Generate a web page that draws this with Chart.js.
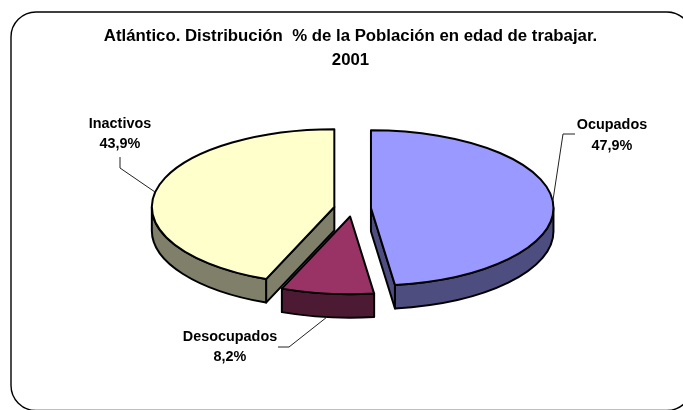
<!DOCTYPE html>
<html>
<head>
<meta charset="utf-8">
<script src="https://cdn.jsdelivr.net/npm/chart.js@4"></script>
<style>html,body{margin:0;padding:0;background:#fff}canvas{display:block}</style>
</head>
<body>
<canvas id="c" width="683" height="410"></canvas>
<script>
const titleLines = ['Atlántico. Distribución  % de la Población en edad de trabajar.', '2001'];
const categories = ['Ocupados', 'Desocupados', 'Inactivos'];
const shares = [47.9, 8.2, 43.9];

const topColors = ['#9999FF', '#993366', '#FFFFCC'];
const wallColors = ['#4D4D80', '#4D1A33', '#80806A'];
const explode = [18.5, 19, 18.5];
const pieShiftX = 2;
const drawOrder = [2, 0, 1];
const squash = 0.426;
const depth = 23.5;
const pieRadius = 182.5;
const FONT = 'Liberation Sans, Arial, sans-serif';
const calloutStyle = [
  { text: [612, 125, 146], line: [[553, 200], [563, 134], [575, 134]] },
  { text: [230, 337, 357], line: [[327, 317], [289, 347], [278, 347]] },
  { text: [120, 124, 144], line: [[155, 192], [120, 168], [120, 157]] }
];

function wedgeGeometry(arc, i) {
  const p = arc.getProps(['x', 'y', 'startAngle', 'endAngle', 'outerRadius'], true);
  const mid = (p.startAngle + p.endAngle) / 2;
  return {
    cx: p.x + pieShiftX + Math.cos(mid) * explode[i],
    cy: p.y + Math.sin(mid) * explode[i] * squash,
    px: p.x, py: p.y,
    r: p.outerRadius, ry: p.outerRadius * squash,
    a0: p.startAngle, a1: p.endAngle
  };
}

function drawRadialWall(ctx, g, angle, color) {
  const ex = g.cx + Math.cos(angle) * g.r, ey = g.cy + Math.sin(angle) * g.ry;
  ctx.beginPath();
  ctx.moveTo(g.cx, g.cy);
  ctx.lineTo(ex, ey);
  ctx.lineTo(ex, ey + depth);
  ctx.lineTo(g.cx, g.cy + depth);
  ctx.closePath();
  ctx.fillStyle = color;
  ctx.fill();
  ctx.stroke();
}

function drawOuterWall(ctx, g, color) {
  const from = Math.max(g.a0, 0), to = Math.min(g.a1, Math.PI);
  if (to <= from) return;
  ctx.beginPath();
  ctx.ellipse(g.cx, g.cy, g.r, g.ry, 0, from, to);
  ctx.ellipse(g.cx, g.cy + depth, g.r, g.ry, 0, to, from, true);
  ctx.closePath();
  ctx.fillStyle = color;
  ctx.fill();
  ctx.stroke();
}

const pie3d = {
  id: 'pie3d',
  beforeDraw(chart) {
    const ctx = chart.ctx;
    ctx.save();
    ctx.fillStyle = '#fff';
    ctx.fillRect(0, 0, chart.width, chart.height);
    ctx.beginPath();
    ctx.roundRect(11, 12, 681, 398.5, 25);
    ctx.lineWidth = 1.4;
    ctx.strokeStyle = '#000';
    ctx.stroke();
    ctx.restore();
  },
  beforeDatasetDraw(chart, args) {
    const ctx = chart.ctx;
    const arcs = args.meta.data;
    drawOrder.forEach(i => {
      const arc = arcs[i];
      const g = wedgeGeometry(arc, i);
      ctx.save();
      ctx.lineWidth = 2;
      ctx.lineJoin = 'round';
      ctx.strokeStyle = '#000';
      if (Math.sin(g.a0 - Math.PI / 2) > 0.01) drawRadialWall(ctx, g, g.a0, wallColors[i]);
      if (Math.sin(g.a1 + Math.PI / 2) > 0.01) drawRadialWall(ctx, g, g.a1, wallColors[i]);
      drawOuterWall(ctx, g, wallColors[i]);
      ctx.restore();

      ctx.save();
      ctx.translate(g.cx, g.cy);
      ctx.scale(1, squash);
      ctx.translate(-g.px, -g.py);
      arc.draw(ctx);
      ctx.restore();

      ctx.save();
      ctx.beginPath();
      ctx.moveTo(g.cx, g.cy);
      ctx.ellipse(g.cx, g.cy, g.r, g.ry, 0, g.a0, g.a1);
      ctx.closePath();
      ctx.lineWidth = 2;
      ctx.lineJoin = 'round';
      ctx.strokeStyle = '#000';
      ctx.stroke();
      ctx.restore();
    });
    return false;
  },
  afterDraw(chart) {
    const ctx = chart.ctx;
    ctx.save();
    categories.forEach((name, i) => {
      const c = calloutStyle[i];
      ctx.beginPath();
      c.line.forEach((pt, k) => k ? ctx.lineTo(pt[0], pt[1]) : ctx.moveTo(pt[0], pt[1]));
      ctx.lineWidth = 1;
      ctx.strokeStyle = '#222';
      ctx.stroke();
      ctx.fillStyle = '#000';
      ctx.font = 'bold 14.4px ' + FONT;
      ctx.textAlign = 'center';
      ctx.textBaseline = 'middle';
      ctx.fillText(name, c.text[0], c.text[1]);
      ctx.fillText(shares[i].toFixed(1).replace('.', ',') + '%', c.text[0], c.text[2]);
    });
    ctx.restore();
  }
};

new Chart(document.getElementById('c'), {
  type: 'pie',
  data: {
    labels: categories,
    datasets: [{
      data: shares,
      backgroundColor: topColors,
      borderWidth: 0,
      radius: pieRadius
    }]
  },
  options: {
    responsive: false,
    animation: false,
    layout: { padding: { left: 18, right: 0, top: 0, bottom: 65 } },
    events: [],
    plugins: {
      legend: { display: false },
      tooltip: { enabled: false },
      title: {
        display: true,
        text: titleLines,
        color: '#000',
        font: { family: FONT, size: 16.8, weight: 'bold', lineHeight: 24 / 16.8 },
        padding: { top: 24, bottom: 0 }
      }
    }
  },
  plugins: [pie3d]
});
</script>
</body>
</html>
